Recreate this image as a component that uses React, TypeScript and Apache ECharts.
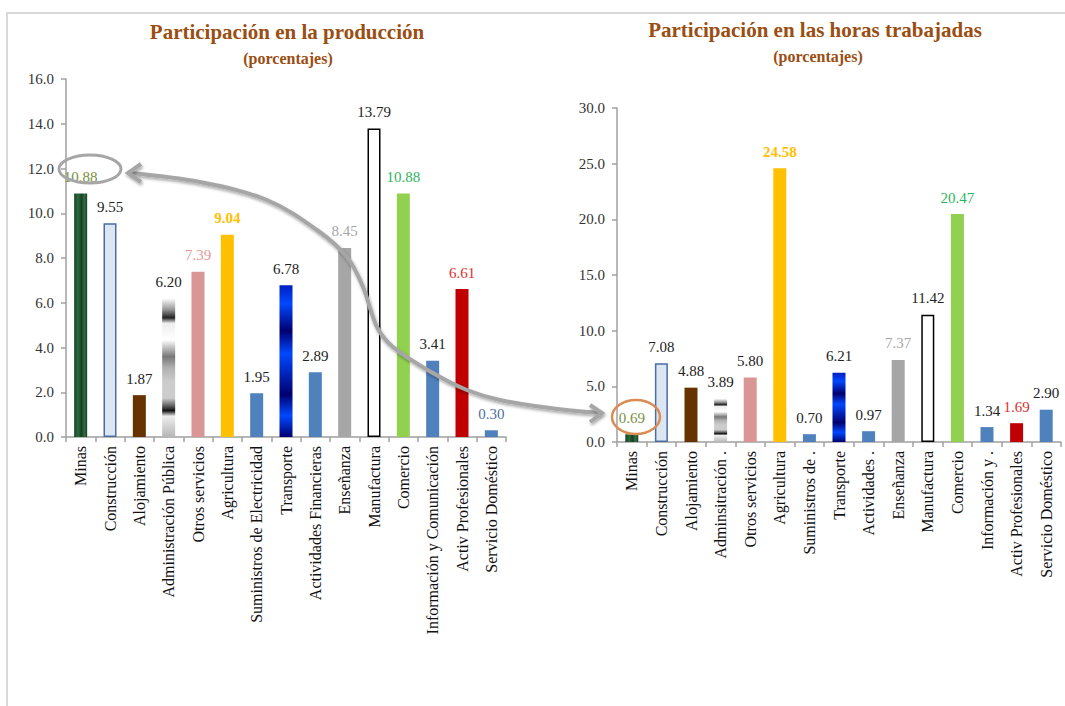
import React, { useEffect, useRef } from "react";
import * as echarts from "echarts";

const leftCategories = [
  "Minas", "Construcción", "Alojamiento", "Administración Pública", "Otros servicios",
  "Agricultura", "Suministros de Electricidad", "Transporte", "Actividades Financieras",
  "Enseñanza", "Manufactura", "Comercio", "Información y Comunicación",
  "Activ Profesionales", "Servicio Doméstico",
];
const leftValues = [10.88, 9.55, 1.87, 6.2, 7.39, 9.04, 1.95, 6.78, 2.89, 8.45, 13.79, 10.88, 3.41, 6.61, 0.3];

const rightCategories = [
  "Minas", "Construcción", "Alojamiento", "Adminsitración .", "Otros servicios",
  "Agricultura", "Suministros de .", "Transporte", "Actividades .", "Enseñanza",
  "Manufactura", "Comercio", "Información y .", "Activ Profesionales", "Servicio Doméstico",
];
const rightValues = [0.69, 7.08, 4.88, 3.89, 5.8, 24.58, 0.7, 6.21, 0.97, 7.37, 11.42, 20.47, 1.34, 1.69, 2.9];

const leftTicks = { min: 0, max: 16, interval: 2 };
const rightTicks = { min: 0, max: 30, interval: 5 };

const FONT = "'Liberation Serif', 'DejaVu Serif', serif";
const TITLE_COLOR = "#9A4E12";

const grad = (stops: [number, string][], horizontal = false) =>
  new echarts.graphic.LinearGradient(0, 0, horizontal ? 1 : 0, horizontal ? 0 : 1,
    stops.map(([offset, color]) => ({ offset, color })));

const barStyles = (): any[] => [
  { color: grad([[0, "#163f24"], [0.3, "#2b6a3c"], [0.55, "#173f25"], [0.8, "#2f6d40"], [1, "#163f24"]], true) },
  { color: "#DCE6F2", borderColor: "#4A6EA3", borderWidth: 1.5 },
  { color: "#663300" },
  { color: grad([[0, "#ffffff"], [0.08, "#999999"], [0.14, "#222222"], [0.18, "#eeeeee"], [0.3, "#ffffff"], [0.42, "#777777"], [0.5, "#b0b0b0"], [0.6, "#cccccc"], [0.72, "#cccccc"], [0.78, "#555555"], [0.81, "#111111"], [0.85, "#eeeeee"], [1, "#b5b5b5"]]) },
  { color: "#D99694" },
  { color: "#FFC000" },
  { color: "#4F81BD" },
  { color: grad([[0, "#0020c0"], [0.12, "#0048ff"], [0.3, "#000070"], [0.45, "#0048ff"], [0.6, "#0020b0"], [0.72, "#000070"], [0.86, "#0048ff"], [1, "#000070"]]) },
  { color: "#4F81BD" },
  { color: "#A6A6A6" },
  { color: "#FFFFFF", borderColor: "#000000", borderWidth: 1.5 },
  { color: "#92D050" },
  { color: "#4F81BD" },
  { color: "#C00000" },
  { color: "#4F81BD" },
];

const leftLabelColors = ["#76923C", "#222", "#222", "#222", "#E6999A", "#FFC000", "#222", "#222", "#222", "#A6A6A6", "#222", "#2DB55D", "#222", "#E0302F", "#4F6FA0"];
const rightLabelColors = ["#76923C", "#222", "#222", "#222", "#222", "#FFC000", "#222", "#222", "#222", "#A6A6A6", "#222", "#2DB55D", "#222", "#E0302F", "#222"];
const boldIndex = 5;

function buildData(values: number[], labelColors: string[]) {
  const styles = barStyles();
  return values.map((v, i) => ({
    value: v,
    itemStyle: styles[i],
    label: { color: labelColors[i], fontWeight: i === boldIndex ? "bold" : "normal" },
  }));
}

const axisLineStyle = { color: "#A0A0A0", width: 1.5 };

export default function App() {
  const ref = useRef<HTMLDivElement>(null);
  useEffect(() => {
    if (!ref.current) return;
    const chart = echarts.init(ref.current, undefined, { renderer: "svg" });
    const xAxisBase = (gridIndex: number, data: string[]) => ({
      type: "category",
      gridIndex,
      data,
      axisLine: { lineStyle: axisLineStyle },
      axisTick: { show: true, length: 5, lineStyle: axisLineStyle },
      axisLabel: { rotate: 90, margin: 9, fontFamily: FONT, fontSize: 16, color: "#111", interval: 0 },
    });
    const yAxisBase = (gridIndex: number, t: { min: number; max: number; interval: number }) => ({
      type: "value",
      gridIndex,
      min: t.min,
      max: t.max,
      interval: t.interval,
      axisLine: { show: true, lineStyle: axisLineStyle },
      axisTick: { show: true, length: 5, lineStyle: axisLineStyle },
      splitLine: { show: false },
      axisLabel: { formatter: (v: number) => v.toFixed(1), fontFamily: FONT, fontSize: 15, color: "#333", margin: 12 },
    });
    const seriesBase = {
      type: "bar",
      barWidth: 13,
      label: { show: true, position: "top", distance: 9, fontFamily: FONT, fontSize: 15, formatter: (p: any) => p.value.toFixed(2) },
    };
    const arrowStyle = {
      stroke: "#A6A6A6",
      lineWidth: 4,
      fill: null,
      shadowBlur: 3,
      shadowColor: "rgba(0,0,0,0.35)",
      shadowOffsetX: 1,
      shadowOffsetY: 2,
    };
    chart.setOption({
      animation: false,
      backgroundColor: "#ffffff",
      title: [
        { text: "Participación en la producción", left: 282, top: 16, textAlign: "center", textStyle: { fontFamily: FONT, fontSize: 21, fontWeight: "bold", color: TITLE_COLOR } },
        { text: "(porcentajes)", left: 283, top: 45, textAlign: "center", textStyle: { fontFamily: FONT, fontSize: 16, fontWeight: "bold", color: TITLE_COLOR } },
        { text: "Participación en las horas trabajadas", left: 810, top: 14, textAlign: "center", textStyle: { fontFamily: FONT, fontSize: 21, fontWeight: "bold", color: TITLE_COLOR } },
        { text: "(porcentajes)", left: 813, top: 43, textAlign: "center", textStyle: { fontFamily: FONT, fontSize: 16, fontWeight: "bold", color: TITLE_COLOR } },
      ],
      grid: [
        { left: 66, top: 79, width: 440, height: 358 },
        { left: 617, top: 108, width: 444, height: 334 },
      ],
      xAxis: [xAxisBase(0, leftCategories), xAxisBase(1, rightCategories)],
      yAxis: [yAxisBase(0, leftTicks), yAxisBase(1, rightTicks)],
      series: [
        { ...seriesBase, xAxisIndex: 0, yAxisIndex: 0, data: buildData(leftValues, leftLabelColors) },
        { ...seriesBase, xAxisIndex: 1, yAxisIndex: 1, data: buildData(rightValues, rightLabelColors) },
      ],
      graphic: [
        { type: "rect", z: 0, silent: true, shape: { x: 7, y: 13, width: 1200, height: 800 }, style: { fill: null, stroke: "#D9D9D9", lineWidth: 2 } },
        { type: "ellipse", z: 100, shape: { cx: 90, cy: 169, rx: 31, ry: 14 }, style: { fill: null, stroke: "#A6A6A6", lineWidth: 3 } },
        { type: "ellipse", z: 100, shape: { cx: 636, cy: 417, rx: 24, ry: 17 }, style: { fill: null, stroke: "#DA8C55", lineWidth: 2.5 } },
        {
          type: "polyline", z: 100,
          shape: {
            smooth: 0.35,
            points: [[130, 173], [200, 182], [267, 200], [317, 230], [347, 257], [363, 287], [377, 327], [393, 347], [433, 373], [467, 390], [500, 400], [550, 408], [600, 413]],
          },
          style: arrowStyle,
        },
        { type: "polyline", z: 101, shape: { points: [[141, 164], [128, 173], [141, 182]] }, style: arrowStyle },
        { type: "polyline", z: 101, shape: { points: [[590, 405], [602, 413], [590, 422]] }, style: arrowStyle },
      ],
    });
    return () => chart.dispose();
  }, []);
  return <div ref={ref} style={{ position: "absolute", left: 0, top: 0, width: 1065, height: 706 }} />;
}
